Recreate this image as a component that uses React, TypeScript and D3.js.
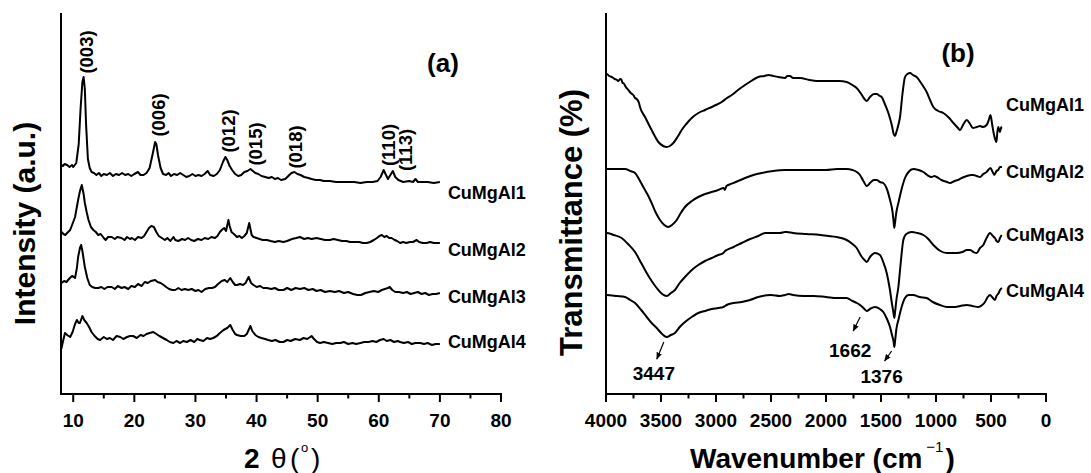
import React from 'react';
import * as d3 from 'd3';

// ---------- XRD data (2θ in degrees, intensity in a.u., offset stacked) ----------
const xrdCuMgAl1: [number, number][] = [
  [8.0,229],[8.3,228],[8.6,230],[9.0,229],[9.4,227],[9.8,229],[10.0,227],[10.5,231],[10.9,250],[11.2,285],[11.5,312],[11.7,317],[11.9,305],[12.1,270],[12.4,235],[12.7,226],[13.0,222],[13.4,221],[13.8,219],[14.2,221],[14.6,218],[15.0,220],[15.5,219],[16.0,221],[16.5,218],[17.0,220],[17.5,219],[18.0,221],[18.5,219],[19.0,220],[19.5,218],[20.0,220],[20.6,222],[21.0,219],[21.5,219],[22.0,221],[22.5,226],[23.0,240],[23.4,252],[23.6,250],[23.9,238],[24.3,226],[24.7,220],[25.2,219],[25.6,221],[26.0,218],[26.5,220],[27.0,219],[27.5,221],[28.0,219],[28.5,217],[29.0,218],[29.5,220],[30.0,218],[30.5,219],[31.0,218],[31.5,220],[32.0,223],[32.4,219],[33.0,218],[33.5,220],[34.0,224],[34.5,232],[34.9,237],[35.2,234],[35.6,228],[36.0,224],[36.5,220],[37.0,218],[37.5,219],[38.0,222],[38.5,223],[39.0,225],[39.4,223],[39.8,221],[40.3,220],[40.8,218],[41.4,217],[42.0,216],[42.5,217],[43.0,215],[43.5,216],[44.0,214],[44.7,215],[45.2,218],[45.7,221],[46.2,222],[46.7,220],[47.2,219],[47.8,217],[48.5,216],[49.0,215],[49.7,214],[50.4,214],[51.0,213],[52.0,213],[53.0,212],[54.0,212],[55.0,212],[56.0,212],[57.0,211],[58.0,212],[59.0,212],[59.8,213],[60.3,217],[60.8,224],[61.1,220],[61.5,215],[61.9,219],[62.3,223],[62.7,217],[63.2,214],[64.0,212],[65.0,213],[65.6,212],[66.0,215],[66.4,212],[67.0,212],[68.0,212],[69.0,211],[70.0,212]
];
const xrdCuMgAl2: [number, number][] = [
  [8.1,162],[8.4,160],[8.7,159],[9.0,161],[9.5,164],[10.0,172],[10.3,177],[10.8,194],[11.1,203],[11.4,209],[11.7,200],[11.9,191],[12.2,182],[12.5,174],[12.9,167],[13.3,164],[13.7,162],[14.1,159],[14.5,160],[15.0,156],[15.3,154],[15.7,157],[16.3,157],[16.8,155],[17.2,157],[17.9,156],[18.4,154],[18.8,157],[19.3,155],[19.6,156],[20.1,154],[20.6,157],[21.2,156],[21.6,158],[22.0,162],[22.4,166],[22.8,168],[23.2,167],[23.6,162],[24.0,158],[24.5,156],[25.0,154],[25.4,156],[25.9,153],[26.4,157],[26.7,154],[27.2,153],[27.8,155],[28.3,154],[28.8,156],[29.3,154],[29.8,153],[30.4,155],[31.0,154],[31.5,156],[32.1,155],[32.6,157],[33.2,156],[33.6,158],[34.0,162],[34.3,164],[34.7,166],[35.0,163],[35.4,174],[35.6,168],[35.9,162],[36.3,160],[36.8,157],[37.2,158],[37.6,156],[38.0,158],[38.4,161],[38.8,171],[39.2,159],[39.5,157],[40.0,156],[40.5,155],[41.0,154],[41.7,154],[42.3,153],[43.0,152],[43.6,153],[44.4,152],[45.0,153],[45.8,155],[46.5,156],[47.1,157],[47.8,155],[48.4,156],[49.0,155],[49.8,156],[50.5,155],[51.2,154],[52.0,154],[52.6,155],[53.3,154],[54.0,153],[54.7,153],[55.3,152],[56.0,152],[56.8,152],[57.4,151],[58.0,151],[58.6,152],[59.2,154],[59.7,156],[60.1,158],[60.5,159],[60.9,157],[61.3,158],[61.7,156],[62.1,156],[62.6,154],[63.0,153],[63.5,151],[64.0,152],[64.5,151],[65.1,152],[65.6,152],[66.2,154],[66.6,152],[67.2,151],[67.8,151],[68.4,152],[69.0,151],[69.5,151],[70.0,151]
];
const xrdCuMgAl3: [number, number][] = [
  [8.1,111],[8.5,113],[8.9,112],[9.3,115],[9.8,118],[10.1,117],[10.3,116],[10.6,126],[10.8,137],[11.1,146],[11.3,149],[11.5,143],[11.9,127],[12.3,116],[12.7,109],[13.1,107],[13.6,106],[14.1,106],[14.6,107],[15.1,105],[15.6,107],[16.3,107],[16.8,105],[17.3,108],[17.9,106],[18.4,107],[19.0,105],[19.5,108],[20.1,107],[20.6,110],[21.2,108],[21.7,112],[22.2,111],[22.7,113],[23.4,114],[23.8,112],[24.3,111],[24.8,109],[25.2,107],[25.7,105],[26.2,104],[26.7,104],[27.2,106],[27.7,104],[28.3,105],[28.8,104],[29.4,105],[30.0,103],[30.5,104],[31.0,102],[31.6,105],[32.2,106],[32.7,106],[33.2,107],[33.7,110],[34.3,113],[34.8,114],[35.2,112],[35.7,116],[36.1,112],[36.5,109],[36.8,109],[37.3,110],[37.8,109],[38.2,111],[38.7,117],[39.1,111],[39.5,109],[40.0,107],[40.6,108],[41.1,106],[41.7,106],[42.4,105],[43.0,106],[43.6,104],[44.4,104],[45.0,106],[45.7,104],[46.4,106],[47.1,105],[47.8,106],[48.5,104],[49.2,105],[49.8,103],[50.5,104],[51.2,102],[52.0,103],[52.8,102],[53.5,103],[54.3,101],[55.0,102],[55.8,100],[56.5,99],[57.1,99],[57.8,101],[58.5,102],[59.2,103],[59.9,102],[60.5,104],[61.0,105],[61.5,106],[61.8,107],[62.2,104],[62.7,102],[63.3,102],[64.0,101],[64.6,102],[65.2,100],[65.8,101],[66.4,102],[67.0,100],[67.6,101],[68.2,99],[68.8,100],[69.4,100],[70.0,101]
];
const xrdCuMgAl4: [number, number][] = [
  [8.05,45],[8.3,52],[8.65,61],[9.0,59],[9.5,57],[9.9,62],[10.3,70],[10.6,74],[10.9,71],[11.1,71],[11.5,78],[11.8,74],[12.2,71],[12.6,67],[13.0,62],[13.5,58],[14.0,55],[14.4,54],[15.0,57],[15.5,55],[16.0,56],[16.5,54],[17.1,58],[17.7,57],[18.2,55],[18.8,57],[19.3,58],[19.8,58],[20.4,56],[21.0,59],[21.5,58],[22.0,60],[22.5,61],[23.1,62],[23.6,60],[24.1,58],[24.7,56],[25.3,54],[25.8,52],[26.4,51],[26.9,53],[27.5,51],[28.0,53],[28.6,52],[29.2,54],[29.8,52],[30.3,55],[30.7,54],[31.3,53],[31.9,56],[32.4,55],[32.9,56],[33.5,58],[34.0,61],[34.6,64],[35.2,66],[35.7,69],[36.1,64],[36.5,60],[36.8,59],[37.4,58],[38.0,58],[38.4,60],[38.7,64],[39.0,68],[39.3,63],[39.8,59],[40.3,57],[40.8,56],[41.4,55],[41.9,54],[42.5,53],[43.1,54],[43.8,52],[44.4,52],[45.0,54],[45.6,53],[46.3,55],[47.1,54],[47.7,56],[48.3,55],[49.0,58],[49.4,55],[49.9,52],[50.4,51],[51.0,52],[51.7,51],[52.4,50],[53.0,51],[53.7,51],[54.3,52],[55.0,50],[55.7,51],[56.3,50],[57.0,51],[57.6,52],[58.3,52],[59.0,53],[59.6,52],[60.2,54],[60.8,55],[61.3,53],[61.9,54],[62.5,52],[63.1,53],[63.5,52],[64.1,51],[64.8,52],[65.4,50],[66.0,51],[66.8,51],[67.4,50],[68.0,51],[68.7,49],[69.3,50],[70.0,50]
];

// ---------- FTIR data (wavenumber in cm-1, transmittance, offset stacked) ----------
const ftirCuMgAl1: [number, number][] = [
  [4000,320],[3994,320],[3970,318],[3948,317],[3920,315],[3900,314],[3888,313],[3870,315],[3858,314],[3850,311],[3843,311],[3820,307],[3797,304],[3775,301],[3752,299],[3735,296],[3721,295],[3700,291],[3691,287],[3645,277],[3585,264],[3524,252],[3480,248],[3448,247],[3420,248],[3388,251],[3350,257],[3312,264],[3270,270],[3221,276],[3160,281],[3100,284],[3020,288],[2948,292],[2900,296],[2857,299],[2800,304],[2736,309],[2680,313],[2615,317],[2560,318],[2524,319],[2480,318],[2433,317],[2373,316],[2350,318],[2327,318],[2300,316],[2236,316],[2150,314],[2085,313],[2000,313],[1964,313],[1880,313],[1812,312],[1760,309],[1721,306],[1680,300],[1650,295],[1630,293],[1600,297],[1565,300],[1539,300],[1510,298],[1494,297],[1465,290],[1433,281],[1400,268],[1385,260],[1373,258],[1360,262],[1340,270],[1327,277],[1305,300],[1282,317],[1260,320],[1236,321],[1210,319],[1176,317],[1130,310],[1085,302],[1050,293],[1024,287],[980,283],[933,281],[880,276],[842,271],[800,266],[782,264],[750,270],[721,274],[690,270],[664,266],[630,267],[600,268],[573,267],[540,269],[520,274],[505,279],[490,270],[476,261],[460,254],[451,252],[442,262],[434,267],[425,264],[418,262],[409,266],[400,267]
];
const ftirCuMgAl2: [number, number][] = [
  [4000,225],[3994,225],[3900,225],[3827,225],[3780,223],[3736,221],[3700,215],[3661,207],[3620,199],[3585,191],[3550,182],[3509,174],[3470,169],[3433,167],[3400,169],[3357,174],[3320,181],[3282,187],[3220,193],[3161,197],[3100,200],[3039,202],[2980,204],[2930,206],[2920,204],[2905,208],[2888,209],[2820,212],[2736,216],[2660,219],[2585,221],[2480,223],[2373,224],[2300,224],[2200,224],[2115,224],[2000,224],[1900,225],[1812,225],[1760,224],[1720,222],[1691,219],[1660,213],[1630,208],[1600,211],[1565,214],[1539,214],[1510,212],[1479,211],[1450,206],[1418,194],[1395,182],[1385,172],[1379,166],[1374,170],[1360,182],[1342,191],[1310,206],[1282,216],[1250,222],[1206,225],[1160,224],[1115,222],[1080,219],[1039,217],[1015,218],[994,217],[950,214],[900,212],[873,211],[830,213],[800,214],[767,216],[720,218],[680,219],[661,219],[630,218],[600,217],[570,220],[540,222],[505,226],[485,222],[470,219],[450,223],[435,224],[418,227],[400,227]
];
const ftirCuMgAl3: [number, number][] = [
  [4000,161],[3994,161],[3930,159],[3858,156],[3800,150],[3736,142],[3680,131],[3630,121],[3585,113],[3539,106],[3490,100],[3448,98],[3410,101],[3373,104],[3330,111],[3282,117],[3220,124],[3161,129],[3100,133],[3039,136],[2980,139],[2933,141],[2918,143],[2903,144],[2840,147],[2767,151],[2690,155],[2615,158],[2550,161],[2494,161],[2418,161],[2373,162],[2358,162],[2300,161],[2176,160],[2050,159],[1903,157],[1860,156],[1812,154],[1760,150],[1721,146],[1680,138],[1650,134],[1630,132],[1600,137],[1555,141],[1509,139],[1480,132],[1448,121],[1420,105],[1400,90],[1385,80],[1379,76],[1372,82],[1360,94],[1342,107],[1320,132],[1297,154],[1270,160],[1221,162],[1170,161],[1115,159],[1070,155],[1024,149],[960,143],[903,141],[860,141],[812,141],[760,142],[720,144],[691,144],[660,142],[630,141],[600,146],[570,149],[540,156],[509,161],[490,159],[475,157],[464,156],[450,153],[433,152],[418,156],[403,159]
];
const ftirCuMgAl4: [number, number][] = [
  [4000,99],[3994,99],[3900,98],[3827,97],[3780,94],[3736,91],[3680,84],[3630,77],[3585,71],[3539,66],[3490,60],[3448,57],[3410,59],[3373,61],[3330,67],[3282,72],[3220,77],[3161,81],[3100,83],[3039,85],[2980,86],[2933,87],[2918,88],[2903,89],[2840,91],[2767,92],[2690,94],[2615,97],[2500,99],[2418,98],[2373,99],[2340,100],[2300,99],[2200,98],[2115,98],[2000,97],[1900,96],[1812,96],[1760,93],[1720,91],[1691,89],[1660,86],[1630,83],[1600,85],[1555,87],[1510,85],[1479,82],[1450,76],[1418,67],[1400,59],[1385,52],[1379,47],[1372,53],[1360,65],[1342,74],[1310,88],[1282,96],[1250,99],[1206,99],[1150,97],[1085,96],[1030,92],[964,89],[900,87],[842,87],[780,88],[721,89],[670,88],[615,87],[580,89],[555,92],[530,97],[509,99],[490,97],[475,95],[464,94],[450,98],[430,101],[418,104],[400,106]
];

const sampleNames = ['CuMgAl1', 'CuMgAl2', 'CuMgAl3', 'CuMgAl4'];
const xrdSeries = [xrdCuMgAl1, xrdCuMgAl2, xrdCuMgAl3, xrdCuMgAl4];
const ftirSeries = [ftirCuMgAl1, ftirCuMgAl2, ftirCuMgAl3, ftirCuMgAl4];

// label anchor values (in data units)
const xrdNameIntensity = [195, 138, 91, 46];
const ftirNameTransmittance = [283, 216, 153, 97];

const peakLabels = ['(003)', '(006)', '(012)', '(015)', '(018)', '(110)', '(113)'];
const peakLabelTheta = [12.2, 24.0, 35.4, 39.8, 46.4, 61.6, 64.4];
const peakLabelIntensity = [342, 279, 263, 250, 247, 249, 244];

const bandLabels = ['3447', '1662', '1376'];
const bandWavenumbers = [3447, 1662, 1376];
const bandArrowFromT = [52, 77, 43];
const bandArrowToT = [35, 63, 33];
const bandTextT = [14, 37, 11];

const xrdMajorTicks = [10, 20, 30, 40, 50, 60, 70, 80];
const xrdMinorTicks = [15, 25, 35, 45, 55, 65, 75];
const ftirMajorTicks = [4000, 3500, 3000, 2500, 2000, 1500, 1000, 500, 0];
const ftirMinorTicks = [3750, 3250, 2750, 2250, 1750, 1250, 750, 250];

const FONT = "'Liberation Sans', Arial, Helvetica, sans-serif";

export default function App() {
  const W = 1091, H = 473;
  const top = 13, bottom = 394;

  const xL = d3.scaleLinear().domain([8, 80]).range([61, 501]);
  const yL = d3.scaleLinear().domain([0, 381]).range([bottom, top]);
  const xR = d3.scaleLinear().domain([4000, 0]).range([606, 1046]);
  const yR = d3.scaleLinear().domain([0, 381]).range([bottom, top]);

  const lineL = d3.line<[number, number]>().x(d => xL(d[0])).y(d => yL(d[1])).curve(d3.curveLinear);
  const lineR = d3.line<[number, number]>().x(d => xR(d[0])).y(d => yR(d[1])).curve(d3.curveMonotoneX);

  const tickFont = { fontFamily: FONT, fontWeight: 700, fontSize: 19 } as const;

  return (
    <div style={{ position: 'absolute', left: 0, top: 0 }}>
      <svg width={W} height={H} viewBox={`0 0 ${W} ${H}`} style={{ display: 'block', background: '#fff' }}>
        <defs>
          <marker id="arr" viewBox="0 0 10 10" refX="9" refY="5" markerWidth="6" markerHeight="6" orient="auto">
            <path d="M0,1 L10,5 L0,9 z" fill="#000" />
          </marker>
        </defs>
        <rect width={W} height={H} fill="#fff" />

        {/* ---------------- Panel (a) XRD ---------------- */}
        <g>
          <line x1={xL(8)} y1={top} x2={xL(8)} y2={bottom} stroke="#000" strokeWidth={2} />
          <line x1={xL(8) - 1} y1={bottom} x2={xL(80) + 1} y2={bottom} stroke="#000" strokeWidth={2} />
          {xrdMajorTicks.map(t => (
            <g key={'xm' + t}>
              <line x1={xL(t)} x2={xL(t)} y1={bottom} y2={bottom + 8} stroke="#000" strokeWidth={2} />
              <text x={xL(t)} y={427} textAnchor="middle" {...tickFont}>{t}</text>
            </g>
          ))}
          {xrdMinorTicks.map(t => (
            <line key={'xn' + t} x1={xL(t)} x2={xL(t)} y1={bottom} y2={bottom + 4.5} stroke="#000" strokeWidth={2} />
          ))}
          {xrdSeries.map((s, i) => (
            <path key={'xs' + i} d={lineL(s) || ''} fill="none" stroke="#000" strokeWidth={2} strokeLinejoin="round" />
          ))}
          {sampleNames.map((n, i) => (
            <text key={'xn' + n} x={xL(70) + 8} y={yL(xrdNameIntensity[i])} fontFamily={FONT} fontWeight={700} fontSize={18}>{n}</text>
          ))}
          {peakLabels.map((p, i) => (
            <text key={p} transform={`translate(${xL(peakLabelTheta[i])},${yL(peakLabelIntensity[i])}) rotate(-90)`}
              textAnchor="middle" dominantBaseline="central" fontFamily={FONT} fontWeight={700} fontSize={18.5}>{p}</text>
          ))}
          <text x={443} y={72} textAnchor="middle" fontFamily={FONT} fontWeight={700} fontSize={26}>(a)</text>
          <text transform={`translate(35,${(top + bottom) / 2 + 20}) rotate(-90)`} textAnchor="middle"
            fontFamily={FONT} fontWeight={700} fontSize={30}>Intensity (a.u.)</text>
          <text x={244} y={468} fontFamily={FONT} fontSize={28}>
            <tspan fontWeight={700}>2</tspan>
            <tspan x={271}>θ</tspan>
            <tspan x={290}>(</tspan>
            <tspan x={301} y={452} fontSize={13}>o</tspan>
            <tspan x={311} y={468}>)</tspan>
          </text>
        </g>

        {/* ---------------- Panel (b) FTIR ---------------- */}
        <g>
          <line x1={xR(4000)} y1={top} x2={xR(4000)} y2={bottom} stroke="#000" strokeWidth={2} />
          <line x1={xR(4000) - 1} y1={bottom} x2={xR(0) + 1} y2={bottom} stroke="#000" strokeWidth={2} />
          {ftirMajorTicks.map(t => (
            <g key={'fm' + t}>
              <line x1={xR(t)} x2={xR(t)} y1={bottom} y2={bottom + 8} stroke="#000" strokeWidth={2} />
              <text x={xR(t)} y={427} textAnchor="middle" {...tickFont}>{t}</text>
            </g>
          ))}
          {ftirMinorTicks.map(t => (
            <line key={'fn' + t} x1={xR(t)} x2={xR(t)} y1={bottom} y2={bottom + 4.5} stroke="#000" strokeWidth={2} />
          ))}
          {ftirSeries.map((s, i) => (
            <path key={'fs' + i} d={lineR(s) || ''} fill="none" stroke="#000" strokeWidth={2} strokeLinejoin="round" />
          ))}
          {sampleNames.map((n, i) => (
            <text key={'fn' + n} x={xR(400) + 4} y={yR(ftirNameTransmittance[i])} fontFamily={FONT} fontWeight={700} fontSize={18}>{n}</text>
          ))}
          {bandLabels.map((b, i) => {
            const xc = xR(bandWavenumbers[i]);
            return (
              <g key={b}>
                <line x1={xc - 3} y1={yR(bandArrowFromT[i])} x2={xc - 10} y2={yR(bandArrowToT[i])}
                  stroke="#000" strokeWidth={1.2} markerEnd="url(#arr)" />
                <text x={xc - 13} y={yR(bandTextT[i])} textAnchor="middle" fontFamily={FONT} fontWeight={700} fontSize={19}>{b}</text>
              </g>
            );
          })}
          <text x={958} y={62} textAnchor="middle" fontFamily={FONT} fontWeight={700} fontSize={26}>(b)</text>
          <text transform={`translate(582,${(top + bottom) / 2 + 19}) rotate(-90)`} textAnchor="middle"
            fontFamily={FONT} fontWeight={700} fontSize={31}>Transmittance (%)</text>
          <text x={690} y={468} fontFamily={FONT} fontWeight={700} fontSize={28}>
            Wavenumber (cm
            <tspan dx={4} dy={-16} fontSize={15} fontWeight={400}>−1</tspan>
            <tspan dx={2} dy={16}>)</tspan>
          </text>
        </g>
      </svg>
    </div>
  );
}
